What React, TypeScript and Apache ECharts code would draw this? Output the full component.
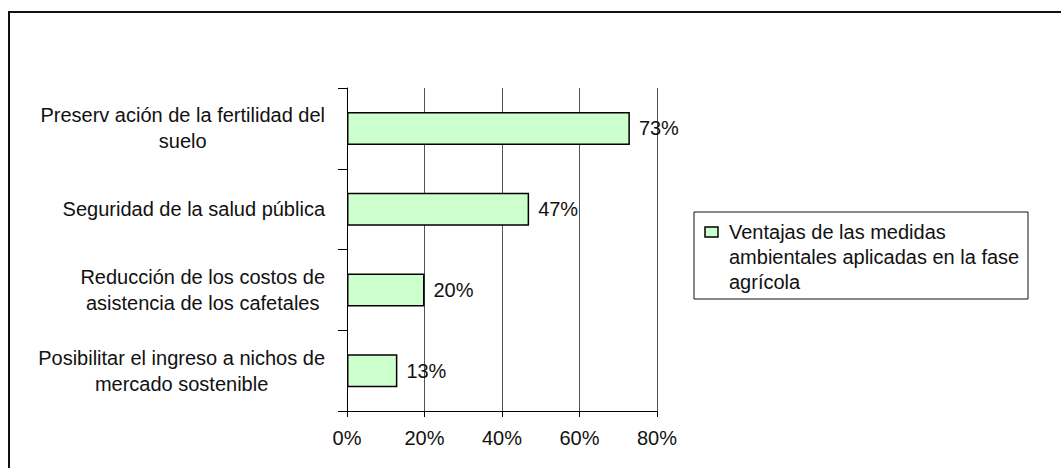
import React, { useEffect, useRef } from "react";
import * as echarts from "echarts";

const categories = [
  "Preserv ación de la fertilidad del\nsuelo",
  "Seguridad de la salud pública",
  "Reducción de los costos de\nasistencia de los cafetales",
  "Posibilitar el ingreso a nichos de\nmercado sostenible",
];
const values = [73, 47, 20, 13];
const seriesName = "Ventajas de las medidas\nambientales aplicadas en la fase\nagrícola";
const xTicks = { min: 0, max: 80, interval: 20 };

const FONT = "'Liberation Sans', Arial, sans-serif";

export default function App() {
  const ref = useRef<HTMLDivElement>(null);
  useEffect(() => {
    if (!ref.current) return;
    const chart = echarts.init(ref.current, null, { renderer: "svg" });
    chart.setOption({
      animation: false,
      backgroundColor: "#ffffff",
      textStyle: { fontFamily: FONT },
      grid: { left: 347, top: 88, right: 404, bottom: 57, containLabel: false },
      xAxis: {
        type: "value",
        min: xTicks.min,
        max: xTicks.max,
        interval: xTicks.interval,
        axisLine: { show: true, lineStyle: { color: "#000", width: 1 } },
        axisTick: { show: true, length: 6, lineStyle: { color: "#000" } },
        splitLine: { show: true, lineStyle: { color: "#555", width: 1 } },
        axisLabel: {
          formatter: "{value}%",
          fontSize: 20,
          color: "#111",
          fontFamily: FONT,
          margin: 17,
        },
      },
      yAxis: {
        type: "category",
        data: categories,
        inverse: true,
        axisLine: { show: true, lineStyle: { color: "#000", width: 1 } },
        axisTick: { show: true, length: 9, lineStyle: { color: "#000" } },
        splitLine: { show: false },
        axisLabel: {
          align: "right",
          margin: 22,
          color: "#111",
          fontSize: 20,
          lineHeight: 26,
          fontFamily: FONT,
          formatter: (v: string) =>
            v
              .split("\n")
              .map((l) => `{c|${l}}`)
              .join("\n"),
          rich: {
            c: { align: "center", fontSize: 20, lineHeight: 26, color: "#111", fontFamily: FONT },
          },
        },
      },
      series: [
        {
          type: "bar",
          name: seriesName,
          data: values,
          barWidth: 33,
          itemStyle: { color: "#CCFFCC", borderColor: "#000", borderWidth: 1.5 },
          label: {
            show: true,
            position: "right",
            distance: 9,
            formatter: "{c}%",
            fontSize: 20,
            color: "#111",
            fontFamily: FONT,
          },
        },
      ],
      graphic: [
        {
          type: "rect",
          shape: { x: 9, y: 12, width: 1100, height: 500 },
          style: { fill: "none", stroke: "#111", lineWidth: 2 },
          silent: true,
        },
        {
          type: "rect",
          shape: { x: 694, y: 212, width: 334, height: 87 },
          style: { fill: "#fff", stroke: "#111", lineWidth: 1 },
          silent: true,
        },
        {
          type: "rect",
          shape: { x: 705, y: 227, width: 13, height: 10 },
          style: { fill: "#CCFFCC", stroke: "#000", lineWidth: 1.5 },
          silent: true,
        },
        {
          type: "text",
          x: 729,
          y: 219,
          style: {
            text: seriesName,
            fontSize: 20,
            lineHeight: 25,
            fill: "#111",
            fontFamily: FONT,
            verticalAlign: "top",
            align: "left",
          },
          silent: true,
        },
      ],
    });
    return () => chart.dispose();
  }, []);
  return (
    <div
      ref={ref}
      style={{ position: "fixed", left: 0, top: 0, width: 1061, height: 468 }}
    />
  );
}
